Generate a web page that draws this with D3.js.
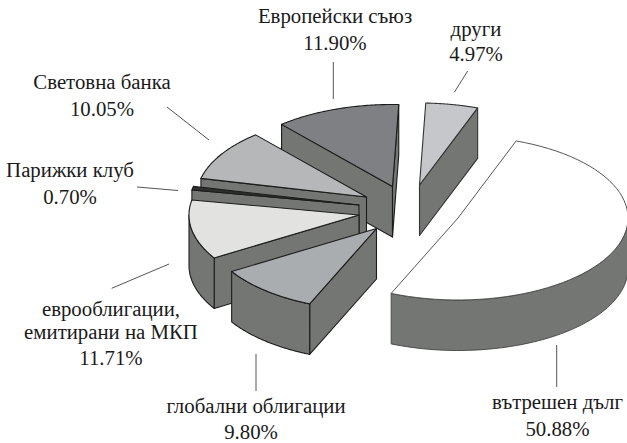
<!DOCTYPE html>
<html>
<head>
<meta charset="utf-8">
<script src="https://cdn.jsdelivr.net/npm/d3@7/dist/d3.min.js"></script>
<style>
html,body{margin:0;padding:0;background:#fff;}
svg{display:block;}
text{font-family:"Liberation Serif","Times New Roman",serif;fill:#1a1a1a;}
</style>
</head>
<body>
<svg id="chart" width="627" height="443"></svg>
<script>
// ---- data ----
const categories = ["вътрешен дълг","глобални облигации","еврооблигации, емитирани на МКП","Парижки клуб","Световна банка","Европейски съюз","други"];
const values = [50.88, 9.80, 11.71, 0.70, 10.05, 11.90, 4.97];
const valueLabels = ["50.88%","9.80%","11.71%","0.70%","10.05%","11.90%","4.97%"];
const categoryLines = [["вътрешен дълг"],["глобални облигации"],["еврооблигации,","емитирани на МКП"],["Парижки клуб"],["Световна банка"],["Европейски съюз"],["други"]];

// ---- layout and style (not data) ----
const W = 627, H = 443;
const rx = 170, ry = 82, depth = 50.5, startDeg = 20, fontSize = 20.8;
const apexes = [[458,218],[376.5,228.5],[359,215],[359,205],[366.5,197],[392.5,186.5],[419.5,185]];
const faceFill = ["#ffffff","#a9adb0","#e2e2e0","#2e2e2e","#b6b7b9","#7f8084","#c6c7cb"];
const wallFill = "#747674";
const strokeCol = ["#444","#1c1c1c","#1c1c1c","#1c1c1c","#1c1c1c","#1c1c1c","#333"];
const drawOrder = [6,5,4,3,2,1,0];
const labelPos = [
  {x:557.5,y:[409,436]},
  {x:256,y:[413,439],vx:251},
  {x:111,y:[315.5,338.5,365]},
  {x:70,y:[177,204]},
  {x:102,y:[89,116]},
  {x:335,y:[23,50]},
  {x:476,y:[36,61]}
];
const leaders = [
  [[556.7,345],[556.7,387]],
  [[256,354],[256,391]],
  [[111.7,288.3],[169,264]],
  [[137,187],[178,190.5]],
  [[167,107],[209,140]],
  [[333.3,62],[333.3,99]],
  [[467.7,71],[454.3,92.3]]
];

const svg = d3.select("#chart");
const pie = d3.pie().sort(null)
  .startAngle(startDeg*Math.PI/180)
  .endAngle((startDeg+360)*Math.PI/180);
const arcs = pie(values);
const sx = d3.scaleLinear().domain([-1,1]).range([-rx,rx]);
const sy = d3.scaleLinear().domain([-1,1]).range([-ry,ry]);
const line = d3.line();
const closed = pts => line(pts)+"Z";

function pt(i,a,dy=0){
  const [ax,ay] = apexes[i];
  return [ax+sx(Math.sin(a)), ay+sy(-Math.cos(a))+dy];
}
function arcPts(i,a0,a1,dy=0){
  return d3.range(0,61).map(k=>pt(i,a0+(a1-a0)*k/60,dy));
}

drawOrder.forEach(i=>{
  const a0 = arcs[i].startAngle, a1 = arcs[i].endAngle;
  const [ax,ay] = apexes[i];
  const g = svg.append("g");
  const st = {stroke:strokeCol[i],w:i===0?0.9:1.1};
  const wall = (pts)=>g.append("path").attr("d",closed(pts)).attr("fill",wallFill)
    .attr("stroke",st.stroke).attr("stroke-width",st.w).attr("stroke-linejoin","round");
  // radial walls facing the viewer
  if(Math.sin(a0)<0) wall([[ax,ay],pt(i,a0),pt(i,a0,depth),[ax,ay+depth]]);
  if(Math.sin(a1)>0) wall([[ax,ay],pt(i,a1),pt(i,a1,depth),[ax,ay+depth]]);
  // curved outer wall: only the arc part between 90° and 270°
  const lo = Math.max(a0,Math.PI/2), hi = Math.min(a1,Math.PI*1.5);
  if(hi>lo) wall(arcPts(i,lo,hi).concat(arcPts(i,hi,lo,depth)));
  // top face
  g.append("path").attr("d",closed([[ax,ay]].concat(arcPts(i,a0,a1))))
    .attr("fill",faceFill[i]).attr("stroke",st.stroke).attr("stroke-width",st.w)
    .attr("stroke-linejoin","round");
});

// leader lines
leaders.forEach(l=>{
  svg.append("path").attr("d",line(l)).attr("fill","none")
    .attr("stroke","#555").attr("stroke-width",1);
});

// labels
categories.forEach((c,i)=>{
  const p = labelPos[i];
  const lines = categoryLines[i];
  lines.forEach((t,k)=>{
    svg.append("text").attr("x",p.x).attr("y",p.y[k]).attr("text-anchor","middle")
      .attr("font-size",fontSize).text(t);
  });
  const vx = p.vx!==undefined ? p.vx : p.x;
  svg.append("text").attr("x",vx).attr("y",p.y[lines.length]).attr("text-anchor","middle")
    .attr("font-size",fontSize).text(valueLabels[i]);
});
</script>
</body>
</html>
